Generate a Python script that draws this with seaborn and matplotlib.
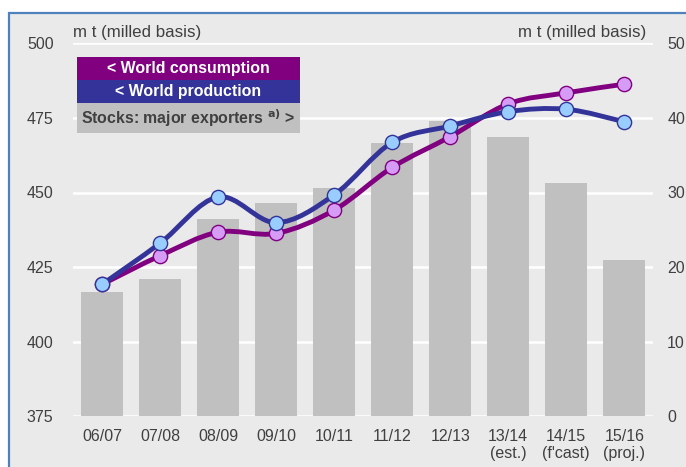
import numpy as np
import pandas as pd
import matplotlib
matplotlib.use("Agg")
import matplotlib.pyplot as plt
from matplotlib.patches import Rectangle, PathPatch
from matplotlib.path import Path
import seaborn as sns

# ---------------- data ----------------
seasons = ["06/07", "07/08", "08/09", "09/10", "10/11", "11/12", "12/13",
           "13/14", "14/15", "15/16"]
season_labels = ["06/07", "07/08", "08/09", "09/10", "10/11", "11/12", "12/13",
                 "13/14\n(est.)", "14/15\n(f'cast)", "15/16\n(proj.)"]
consumption = [419.2, 428.8, 436.7, 436.3, 444.1, 458.4, 468.7, 479.7, 483.4, 486.3]
production = [419.2, 433.0, 448.5, 439.9, 449.2, 466.8, 472.3, 477.1, 477.9, 473.7]
stocks = [16.6, 18.4, 26.4, 28.6, 30.6, 36.7, 39.6, 37.4, 31.3, 21.0]
left_ticks = [375, 400, 425, 450, 475, 500]
right_ticks = [0, 10, 20, 30, 40, 50]

# ---------------- style ----------------
sns.set_theme(style="white")
plt.rcParams["font.family"] = ["Liberation Sans", "DejaVu Sans"]

W, H = 686, 467
BG = "#EAEAEA"
TXT = "#404040"
PURPLE = "#800080"
PURPLE_FACE = "#D69CF5"
BLUE = "#333399"
BLUE_FACE = "#99CCFF"
BAR = "#C0C0C0"


def fx(x):
    return x / W


def fy(y):
    return 1 - y / H


fig = plt.figure(figsize=(W / 100, H / 100), dpi=100, facecolor="white")
# framed background
fig.patches.append(Rectangle((fx(9), -0.1), 1.2, fy(13) + 0.1,
                             transform=fig.transFigure, facecolor=BG,
                             edgecolor="#4F81BD", linewidth=1.6, zorder=-10))

ax = fig.add_axes([fx(73), fy(416.3), fx(653.3) - fx(73), fy(43.3) - fy(416.3)])
ax.set_facecolor(BG)
ax.patch.set_alpha(0)

df = pd.DataFrame({"season": seasons, "stocks": stocks})
sns.barplot(data=df, x="season", y="stocks", ax=ax, color=BAR, width=0.72,
            saturation=1, order=seasons, zorder=2, edgecolor="none", linewidth=0)
ax.set_ylim(0, 50)
ax.set_xlim(-0.5, len(seasons) - 0.5)
ax.set_yticks(right_ticks)
ax.grid(axis="y", color="white", linewidth=1.8, zorder=0)
ax.set_axisbelow(True)
ax.set_xlabel("")
ax.set_ylabel("")
ax.set_xticks(range(len(seasons)))
ax.set_xticklabels(season_labels, linespacing=1.2)
for s in ax.spines.values():
    s.set_visible(False)

ax2 = ax.twinx()
# after twinx: bars' axis labelled on the right, lines' axis on the left
ax.yaxis.tick_right()
ax.tick_params(axis="x", length=0, pad=9, labelsize=11.5, labelcolor=TXT)
ax.tick_params(axis="y", length=0, pad=10, labelsize=11.5, labelcolor=TXT,
               left=False, right=False, labelright=True, labelleft=False)
ax2.set_ylim(375, 500)
ax2.set_yticks(left_ticks)
ax2.yaxis.tick_left()
ax2.tick_params(axis="y", length=0, pad=14, labelsize=11.5, labelcolor=TXT,
                left=False, right=False, labelleft=True, labelright=False)
for s in ax2.spines.values():
    s.set_visible(False)
ax2.grid(False)


def smooth_path(xs, ys):
    P = np.column_stack([xs, ys]).astype(float)
    n = len(P)
    verts = [tuple(P[0])]
    codes = [Path.MOVETO]
    for i in range(n - 1):
        p0 = P[i - 1] if i > 0 else P[i]
        p1 = P[i]
        p2 = P[i + 1]
        p3 = P[i + 2] if i + 2 < n else P[i + 1]
        c1 = p1 + (p2 - p0) / 6.0
        c2 = p2 - (p3 - p1) / 6.0
        verts += [tuple(c1), tuple(c2), tuple(p2)]
        codes += [Path.CURVE4] * 3
    return Path(verts, codes)


pos = np.arange(len(seasons))
for vals, lc, fc, z in [(consumption, PURPLE, PURPLE_FACE, 3),
                        (production, BLUE, BLUE_FACE, 5)]:
    ax2.add_patch(PathPatch(smooth_path(pos, vals), facecolor="none",
                            edgecolor=lc, linewidth=3.5, capstyle="round",
                            joinstyle="round", zorder=z))
    sns.scatterplot(x=pos, y=vals, ax=ax2, s=105, color=fc, edgecolor=lc,
                    linewidth=1.0, zorder=z + 1, legend=False)
ax2.set_xlim(-0.5, len(seasons) - 0.5)
ax2.set_ylim(375, 500)
ax2.set_ylabel("")

# unit labels
fig.text(fx(73), fy(33), "m t (milled basis)", ha="left", va="center",
         fontsize=12.2, color=TXT)
fig.text(fx(646), fy(33), "m t (milled basis)", ha="right", va="center",
         fontsize=12.2, color=TXT)

# legend boxes
boxes = [
    (57.3, 80.0, PURPLE, "< World consumption", "white"),
    (80.0, 102.7, BLUE, "< World production", "white"),
    (102.7, 133.3, BAR, "Stocks: major exporters $^{\\mathbf{a)}}$ >", TXT),
]
for y0, y1, col, label, tcol in boxes:
    fig.patches.append(Rectangle((fx(77), fy(y1)), fx(300) - fx(77), fy(y0) - fy(y1),
                                 transform=fig.transFigure, facecolor=col,
                                 edgecolor="none", zorder=5))
    fig.text(fx(188.5), fy((y0 + y1) / 2), label, ha="center", va="center",
             fontsize=11.4, fontweight="bold", color=tcol, zorder=6)

fig.savefig("out.png", dpi=100, facecolor="white")
